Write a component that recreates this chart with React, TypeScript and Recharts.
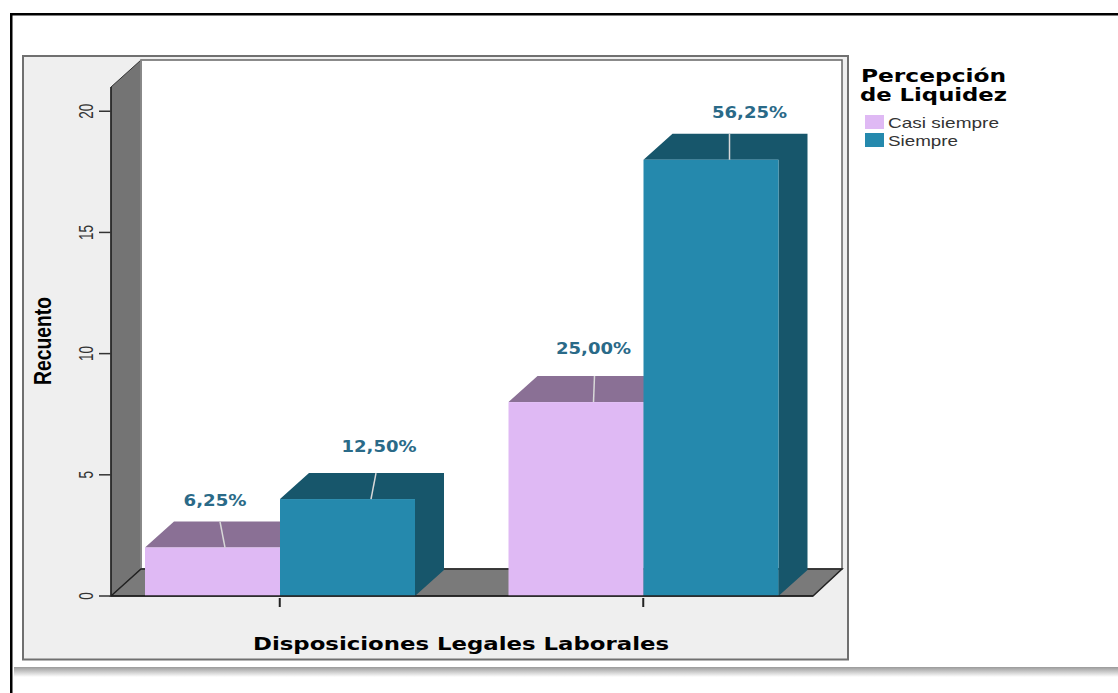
import { BarChart, Bar, XAxis, YAxis, LabelList, Legend } from 'recharts';

const categories = ['Casi siempre', 'Siempre'];
const casiSiempre = [2, 8];
const siempre = [4, 18];
const casiSiemprePct = ['6,25%', '25,00%'];
const siemprePct = ['12,50%', '56,25%'];
const yTicks = [0, 5, 10, 15, 20];

const data = categories.map((name, i) => ({
  name,
  casiSiempre: casiSiempre[i],
  siempre: siempre[i],
  casiSiemprePct: casiSiemprePct[i],
  siemprePct: siemprePct[i],
}));

const PINK = '#dfb9f4';
const PINK_DARK = '#8a7095';
const BLUE = '#2589ad';
const BLUE_DARK = '#17566b';
const DEPTH_X = 29;
const DEPTH_Y = 26;

// label placement per bar, relative to the bar's top left corner
const pinkLabels = [
  { lx: 70, ly: -47, top: 75, bottom: 80 },
  { lx: 85, ly: -54, top: 86, bottom: 85 },
];
const blueLabels = [
  { lx: 99, ly: -53, top: 96, bottom: 91 },
  { lx: 106, ly: -47, top: 86, bottom: 86 },
];

function Box3D(props: any) {
  const { x, y, width, height, index, front, dark, leaders } = props;
  const r = x + width;
  const b = y + height;
  const l = leaders[index];
  return (
    <g>
      <polygon
        points={`${x},${y} ${x + DEPTH_X},${y - DEPTH_Y} ${r + DEPTH_X},${y - DEPTH_Y} ${r + DEPTH_X},${b - DEPTH_Y} ${r},${b} ${r},${y}`}
        fill={dark}
      />
      <rect x={x} y={y} width={width} height={height} fill={front} />
      <line x1={x + l.top} y1={y - DEPTH_Y} x2={x + l.bottom} y2={y} stroke="#d8d8d8" strokeWidth={1.5} />
    </g>
  );
}

function PctLabel(props: any) {
  const { x, y, index, value, leaders } = props;
  const l = leaders[index];
  return (
    <text
      x={x + l.lx}
      y={y + l.ly}
      textAnchor="middle"
      dominantBaseline="central"
      fontFamily="DejaVu Sans"
      fontWeight="bold"
      fontSize={16}
      fill="#2a6a88"
      textLength={String(value).length > 5 ? 75 : 63}
      lengthAdjust="spacingAndGlyphs"
    >
      {value}
    </text>
  );
}

function XTick(props: any) {
  const { x, y } = props;
  return <line x1={x} y1={y - 9} x2={x} y2={y} stroke="#222" strokeWidth={2} />;
}

function YTick(props: any) {
  const { y, payload } = props;
  return (
    <text
      transform={`translate(93,${y}) rotate(-90)`}
      textAnchor="middle"
      fontFamily="Liberation Sans"
      fontSize={21}
      fill="#333"
      textLength={String(payload.value).length * 7.5}
      lengthAdjust="spacingAndGlyphs"
    >
      {payload.value}
    </text>
  );
}

function YTitle() {
  return (
    <text
      transform="translate(51,341) rotate(-90)"
      textAnchor="middle"
      fontFamily="Liberation Sans"
      fontWeight="bold"
      fontSize={24}
      fill="#000"
      textLength={88}
      lengthAdjust="spacingAndGlyphs"
    >
      Recuento
    </text>
  );
}

function XTitle() {
  return (
    <text
      x={461}
      y={644}
      textAnchor="middle"
      dominantBaseline="central"
      fontFamily="DejaVu Sans"
      fontWeight="bold"
      fontSize={17}
      fill="#000"
      textLength={416}
      lengthAdjust="spacingAndGlyphs"
    >
      Disposiciones Legales Laborales
    </text>
  );
}

function LegendBox(props: any) {
  const { payload } = props;
  return (
    <svg width={170} height={100} style={{ display: 'block' }}>
      <text x={2} y={28} fontFamily="DejaVu Sans" fontWeight="bold" fontSize={18} textLength={145} lengthAdjust="spacingAndGlyphs">
        Percepción
      </text>
      <text x={1} y={47} fontFamily="DejaVu Sans" fontWeight="bold" fontSize={18} textLength={147} lengthAdjust="spacingAndGlyphs">
        de Liquidez
      </text>
      {(payload || []).map((p: any, i: number) => (
        <g key={p.value}>
          <rect x={6} y={61 + i * 18} width={19} height={14} fill={p.color} />
          <text
            x={29}
            y={74 + i * 18}
            fontFamily="Liberation Sans"
            fontSize={15}
            fill="#333"
            textLength={i === 0 ? 111 : 70}
            lengthAdjust="spacingAndGlyphs"
          >
            {p.value}
          </text>
        </g>
      ))}
    </svg>
  );
}

function Backdrop() {
  return (
    <svg width={1118} height={693} style={{ position: 'absolute', left: 0, top: 0 }}>
      <defs>
        <linearGradient id="shadow" x1="0" y1="0" x2="0" y2="1">
          <stop offset="0%" stopColor="#9a9a9a" />
          <stop offset="100%" stopColor="#ffffff" />
        </linearGradient>
      </defs>
      <rect width={1118} height={693} fill="#fff" />
      <rect x={14} y={667} width={1104} height={10} fill="url(#shadow)" />
      <rect x={10} y={13} width={1108} height={2.5} fill="#000" />
      <rect x={10} y={13} width={2.5} height={680} fill="#000" />
      {/* panel */}
      <rect x={23} y={56} width={825} height={603.5} fill="#efefef" stroke="#707070" strokeWidth={2} />
      {/* back wall, side wall, floor */}
      <rect x={141} y={60} width={701} height={509} fill="#fff" stroke="#666" strokeWidth={1.5} />
      <polygon points="111,87 141,60 141,569 111,596" fill="#747474" stroke="#333" strokeWidth={1} />
      <line x1={141} y1={60} x2={141} y2={569} stroke="#999" strokeWidth={1.5} />
      <polygon points="111,596 141,569 842,569 813,596" fill="#7a7a7a" stroke="#222" strokeWidth={1.5} />
    </svg>
  );
}

export default function App() {
  return (
    <div style={{ position: 'absolute', left: 0, top: 0, width: 1118, height: 693, overflow: 'hidden' }}>
      <Backdrop />
      <BarChart
        width={1118}
        height={693}
        data={data}
        margin={{ top: 87, right: 305, bottom: 57, left: 51 }}
        barSize={135}
        barGap={0}
        style={{ position: 'absolute', left: 0, top: 0 }}
      >
        <XAxis
          dataKey="name"
          height={40}
          padding={{ left: -13, right: -12 }}
          tick={<XTick />}
          tickSize={9}
          tickLine={false}
          axisLine={{ stroke: '#222', strokeWidth: 1.5 }}
          label={<XTitle />}
        />
        <YAxis
          width={60}
          domain={[0, 21]}
          ticks={yTicks}
          tick={<YTick />}
          tickSize={12}
          axisLine={{ stroke: '#222', strokeWidth: 1.5 }}
          tickLine={{ stroke: '#333', strokeWidth: 1.5 }}
          label={<YTitle />}
        />
        <Legend
          layout="horizontal"
          verticalAlign="middle"
          align="center"
          wrapperStyle={{ position: 'absolute', left: 859, top: 54, width: 170, height: 100 }}
          content={<LegendBox />}
        />
        <Bar
          dataKey="casiSiempre"
          name="Casi siempre"
          fill={PINK}
          isAnimationActive={false}
          shape={<Box3D front={PINK} dark={PINK_DARK} leaders={pinkLabels} />}
        >
          <LabelList dataKey="casiSiemprePct" content={<PctLabel leaders={pinkLabels} />} />
        </Bar>
        <Bar
          dataKey="siempre"
          name="Siempre"
          fill={BLUE}
          isAnimationActive={false}
          shape={<Box3D front={BLUE} dark={BLUE_DARK} leaders={blueLabels} />}
        >
          <LabelList dataKey="siemprePct" content={<PctLabel leaders={blueLabels} />} />
        </Bar>
      </BarChart>
    </div>
  );
}
